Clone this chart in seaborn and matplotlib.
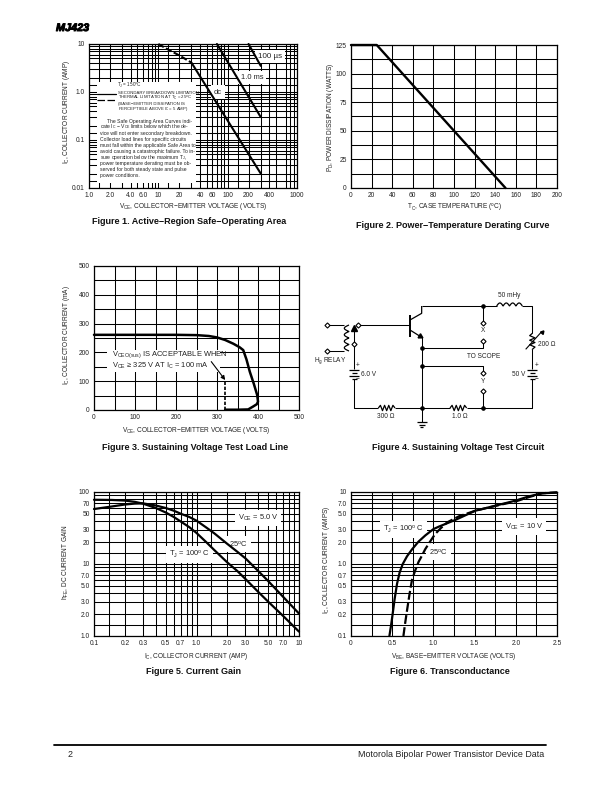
import numpy as np
import matplotlib
matplotlib.use("Agg")
import matplotlib.pyplot as plt
import matplotlib.patheffects as pe
from matplotlib.patches import Rectangle
from matplotlib.ticker import NullFormatter
import seaborn as sns

# Fig 1 safe operating area
soa_thermal_v = [10, 14, 20, 30]
soa_thermal_i = [10, 7.6, 5.8, 4.1]
soa_dc_v = [30, 300]
soa_dc_i = [4.1, 0.02]
soa_1ms_v = [70, 300]
soa_1ms_i = [10, 0.3]
soa_100us_v = [200, 300]
soa_100us_i = [10, 3.5]

# Fig 2 derating
derate_t = [0, 25, 150]
derate_p = [125, 125, 0]

# Fig 3 load line
load_v = [0, 100, 200, 250, 280, 300, 320, 340, 355, 364, 372, 380, 390, 398, 400, 397, 388, 376, 350, 320]
load_i = [261, 261, 261, 260, 257, 252, 243, 230, 218, 208, 175, 133, 90, 52, 29, 20, 12, 2, 1, 1]
load_dash_v = [320, 320]
load_dash_i = [1, 100]

# Fig 5 current gain
gain_ic = [0.1, 0.15, 0.2, 0.25, 0.3, 0.4, 0.5, 0.6, 0.7, 0.85, 1.0, 1.25, 1.5, 2.0, 2.5, 3.0, 4.0, 5.0, 7.0, 10]
gain_25 = [58, 63, 67, 69, 69.5, 65, 60, 55, 50, 45, 40, 32, 26.5, 19, 14.8, 12, 8, 5.8, 3.5, 2.05]
gain_100 = [78, 77.5, 76, 73, 69, 60, 52, 45, 39, 32.5, 27, 20, 15.5, 10.5, 8, 6.2, 4.1, 3, 1.9, 1.15]

# Fig 6 transconductance
tc_100_v = [0.466, 0.486, 0.506, 0.53, 0.559, 0.59, 0.628, 0.68, 0.741, 0.82, 0.903, 1.0, 1.065, 1.267, 1.51, 1.83, 2.0, 2.16, 2.32, 2.5]
tc_100_i = [0.1, 0.14, 0.204, 0.33, 0.533, 0.76, 1.0, 1.28, 1.6, 2.05, 2.5, 3.05, 3.3, 4.1, 5.5, 6.8, 7.6, 8.7, 9.6, 9.8]
tc_25_v = [0.636, 0.655, 0.68, 0.71, 0.74, 0.78, 0.82, 0.86, 0.90, 0.96, 1.02, 1.09, 1.17, 1.31, 1.51, 1.8, 2.0, 2.16, 2.32, 2.5]
tc_25_i = [0.1, 0.145, 0.227, 0.38, 0.6, 0.82, 1.07, 1.3, 1.6, 2.05, 2.6, 3.15, 3.8, 4.6, 5.5, 6.6, 7.4, 8.5, 9.6, 9.9]

# tick labels
log_ticks = [0.1, 0.2, 0.3, 0.5, 0.7, 1, 2, 3, 5, 7, 10, 20, 30, 50, 70, 100]
log_labels = ['0.1', '0.2', '0.3', '0.5', '0.7', '1.0', '2.0', '3.0', '5.0', '7.0', '10', '20', '30', '50', '70', '100']
log_lines = [m * d for d in (0.1, 1, 10) for m in (1, 1.4, 2, 3, 4, 5, 6, 7, 8, 9)] + [100]

sns.set_theme(style="white")
plt.rcParams['font.family'] = ['Liberation Sans', 'DejaVu Sans']
plt.rcParams['mathtext.default'] = 'regular'

W, H = 612, 792
fig = plt.figure(figsize=(W / 100, H / 100), dpi=100)
fig.patch.set_facecolor('white')

TICK = 4.8
LABEL = 4.7
GRID = 0.75
CURVE = 1.5


def make_ax(left, top, right, bottom):
    ax = fig.add_axes([left / W, 1 - bottom / H, (right - left) / W, (bottom - top) / H])
    for s in ax.spines.values():
        s.set_linewidth(0.9)
        s.set_color('black')
    ax.tick_params(which='both', length=0, labelsize=TICK, pad=3, colors='#222222')
    ax.grid(True, which='both', color='black', linewidth=GRID)
    ax.set_axisbelow(True)
    return ax


def labels(ax, box, xlabel, ylabel, xl_y, yl_x, yl_y):
    left, top, right, bottom = box
    ax.set_xlabel(xlabel, fontsize=LABEL, color='#222222')
    ax.set_ylabel(ylabel, fontsize=LABEL, color='#222222')
    ax.xaxis.set_label_coords(0.5, -(xl_y - bottom) / (bottom - top), transform=ax.transAxes)
    ax.yaxis.set_label_coords((yl_x - left) / (right - left), 1 - (yl_y - top) / (bottom - top), transform=ax.transAxes)
    ax.xaxis.label.set_va('center')
    ax.yaxis.label.set_va('center')


def curve(ax, x, y, dashes=None, lw=CURVE):
    line = sns.lineplot(x=x, y=y, ax=ax, color='black', linewidth=lw, estimator=None, sort=False,
                        legend=False, zorder=4, clip_on=False)
    if dashes:
        line.lines[-1].set_dashes(dashes)


def note(ax, x, y, s, size=LABEL + 0.7):
    # white box knocks the grid out behind the label, curves stay on top
    ax.text(x, y, s, fontsize=size, color='#222222', ha='center', va='center', zorder=3,
            bbox=dict(facecolor='white', edgecolor='none', pad=2.2))


# Figure 1
box1 = (89, 44, 297, 188)
ax1 = make_ax(*box1)
ax1.set_xscale('log')
ax1.set_yscale('log')
ax1.set_xlim(1, 1000)
ax1.set_ylim(0.01, 10)
ax1.set_xticks([1, 2, 4, 6, 10, 20, 40, 60, 100, 200, 400, 1000])
ax1.set_xticklabels(['1.0', '2.0', '4.0', '6.0', '10', '20', '40', '60', '100', '200', '400', '1000'])
ax1.set_xticks([m * d for d in (1, 10, 100) for m in (1.4, 3, 5, 7, 8, 9)], minor=True)
ax1.set_yticks([0.01, 0.1, 1, 10])
ax1.set_yticklabels(['0.01', '0.1', '1.0', '10'])
ax1.set_yticks([m * d for d in (0.01, 0.1, 1) for m in (1.4, 2, 3, 4, 5, 6, 7, 8, 9)], minor=True)
ax1.xaxis.set_minor_formatter(NullFormatter())
ax1.yaxis.set_minor_formatter(NullFormatter())
curve(ax1, soa_thermal_v, soa_thermal_i, dashes=(3, 1.2))
curve(ax1, soa_dc_v, soa_dc_i)
curve(ax1, soa_1ms_v, soa_1ms_i)
curve(ax1, soa_100us_v, soa_100us_i)
note(ax1, 72, 1.0, 'dc', 5.4)
note(ax1, 225, 2.0, '1.0 ms')
note(ax1, 408, 5.6, '100 µs', 5.8)
labels(ax1, box1, r'V$_{CE}$, COLLECTOR−EMITTER VOLTAGE (VOLTS)', r'I$_{C}$, COLLECTOR CURRENT (AMP)', 207, 67, 112)

# Figure 2
box2 = (351, 45, 557, 188)
ax2 = make_ax(*box2)
ax2.set_xlim(0, 200)
ax2.set_ylim(0, 125)
ax2.set_xticks(range(0, 201, 20))
ax2.set_yticks([0, 25, 50, 75, 100, 125])
ax2.set_yticks([12.5, 37.5, 62.5, 87.5, 112.5], minor=True)
curve(ax2, derate_t, derate_p, lw=1.7)
labels(ax2, box2, r'T$_{C}$, CASE TEMPERATURE ($^{o}$C)', r'P$_{D}$, POWER DISSIPATION (WATTS)', 208, 330, 117)

# Figure 3
box3 = (94, 266, 299, 410)
ax3 = make_ax(*box3)
ax3.set_xlim(0, 500)
ax3.set_ylim(0, 500)
ax3.set_xticks(range(0, 501, 100))
ax3.set_xticks(range(50, 500, 100), minor=True)
ax3.set_yticks(range(0, 501, 100))
ax3.set_yticks(range(50, 500, 100), minor=True)
curve(ax3, load_v, load_i, lw=1.8)
curve(ax3, load_dash_v, load_dash_i, dashes=(2, 1), lw=1.2)
ax3.add_patch(Rectangle((31, 133), 276, 75, facecolor='white', edgecolor='none', zorder=2))
ax3.text(43, 193, r'V$_{CEO(sus)}$ IS ACCEPTABLE WHEN', fontsize=LABEL + 0.7, color='#222222', va='center', zorder=5)
ax3.text(43, 154, r'V$_{CE}$ ≥ 325 V AT I$_{C}$ = 100 mA', fontsize=LABEL + 0.7, color='#222222', va='center', zorder=5)
ax3.annotate('', xy=(320, 104), xytext=(286, 168), zorder=5,
             arrowprops=dict(arrowstyle='-|>', color='black', lw=0.8, mutation_scale=6, shrinkA=0, shrinkB=0))
labels(ax3, box3, r'V$_{CE}$, COLLECTOR−EMITTER VOLTAGE (VOLTS)', r'I$_{C}$, COLLECTOR CURRENT (mA)', 431, 66, 335)

# Figure 5
box5 = (94, 492, 299, 636)
ax5 = make_ax(*box5)
ax5.set_xscale('log')
ax5.set_yscale('log')
ax5.set_xlim(0.1, 10)
ax5.set_ylim(1, 100)
ax5.set_xticks(log_ticks[:11])
ax5.set_xticklabels(log_labels[:11])
ax5.set_xticks([v for v in log_lines if 0.1 <= v <= 10], minor=True)
ax5.set_yticks(log_ticks[5:])
ax5.set_yticklabels(log_labels[5:])
ax5.set_yticks([v for v in log_lines if 1 <= v <= 100], minor=True)
ax5.xaxis.set_minor_formatter(NullFormatter())
ax5.yaxis.set_minor_formatter(NullFormatter())
curve(ax5, gain_ic, gain_25, lw=1.6)
curve(ax5, gain_ic, gain_100, lw=1.6)
note(ax5, 3.98, 43.5, r'V$_{CE}$ = 5.0 V')
note(ax5, 2.56, 19.2, '25$^{o}$C')
note(ax5, 0.85, 13.6, r'T$_{J}$ = 100$^{o}$ C')
labels(ax5, box5, r'I$_{C}$, COLLECTOR CURRENT (AMP)', r'h$_{FE}$, DC CURRENT GAIN', 657, 66, 562)

# Figure 6
box6 = (351, 492, 557, 636)
ax6 = make_ax(*box6)
ax6.set_yscale('log')
ax6.set_xlim(0, 2.5)
ax6.set_ylim(0.1, 10)
ax6.set_xticks([0, 0.5, 1, 1.5, 2, 2.5])
ax6.set_xticklabels(['0', '0.5', '1.0', '1.5', '2.0', '2.5'])
ax6.set_xticks([0.25, 0.75, 1.25, 1.75, 2.25], minor=True)
ax6.set_yticks(log_ticks[:11])
ax6.set_yticklabels(log_labels[:11])
ax6.set_yticks([v for v in log_lines if 0.1 <= v <= 10], minor=True)
ax6.yaxis.set_minor_formatter(NullFormatter())
curve(ax6, tc_100_v, tc_100_i, lw=1.6)
curve(ax6, tc_25_v, tc_25_i, dashes=(4, 1.5), lw=1.6)
note(ax6, 0.64, 3.0, r'T$_{J}$ = 100$^{o}$ C')
note(ax6, 1.06, 1.48, '25$^{o}$C')
note(ax6, 2.1, 3.3, r'V$_{CE}$ = 10 V')
labels(ax6, box6, r'V$_{BE}$, BASE−EMITTER VOLTAGE (VOLTS)', r'I$_{C}$, COLLECTOR CURRENT (AMPS)', 657, 326, 560)

# Figure 4 circuit, drawn in a small frame measured in its own units
circ = fig.add_axes([315 / W, 1 - 460 / H, 250 / W, 180 / H])
circ.set_xlim(0, 750)
circ.set_ylim(540, 0)
circ.axis('off')


def wire(xs, ys, lw=0.75):
    circ.plot(xs, ys, color='black', linewidth=lw, solid_capstyle='butt', zorder=2)


def terminal(x, y):
    circ.plot([x], [y], marker='D', ms=2.6, mfc='white', mec='black', mew=0.8, zorder=3)


def dot(x, y):
    circ.plot([x], [y], marker='o', ms=2.3, color='black', zorder=3)


def coil_h(x0, x1, y, n=4):
    t = np.linspace(0, 1, 120)
    wire(x0 + (x1 - x0) * t, y - 9 * np.abs(np.sin(np.pi * n * t)), 0.9)


def res_h(x0, x1, y):
    xs = np.linspace(x0, x1, 9)
    ys = y + np.array([0, -8, 8, -8, 8, -8, 8, -8, 0])
    wire(xs, ys, 0.9)


def battery(x, y0, w=15):
    for i, half in enumerate((w, w * 0.55, w, w * 0.55)):
        wire([x - half, x + half], [y0 + i * 9, y0 + i * 9], 0.9)


wire([320, 545], [78, 78])
coil_h(545, 622, 78)
wire([622, 652, 652], [78, 78, 160])
circ.plot(652 + np.array([0, -8, 8, -8, 8, -8, 8, 0]), np.linspace(160, 208, 8), color='black', lw=0.9)
wire([632, 680], [208, 155], 0.8)
circ.plot([680], [155], marker=(3, 0, -40), ms=3, color='black')
wire([652, 652], [208, 268])
battery(652, 270)
wire([652, 652, 455], [298, 384, 384])
res_h(405, 455, 384)
wire([405, 240], [384, 384])
res_h(190, 240, 384)
wire([190, 118, 118], [384, 384, 296])
battery(118, 270)
wire([118, 118], [268, 192])
wire([118, 118], [192, 150])
circ.plot([118], [145], marker='^', ms=4, color='black')
wire([128, 285], [135, 135])
wire([285, 285], [105, 172], 1.4)
wire([285, 320, 320], [120, 100, 78], 0.9)
wire([285, 320], [150, 172], 0.9)
circ.plot([315], [169], marker=(3, 0, -120), ms=4, color='black')
wire([320, 320], [172, 425])
wire([305, 335], [427, 427], 0.9)
wire([311, 329], [435, 435], 0.9)
wire([316, 324], [442, 442], 0.9)
wire([505, 505], [78, 130])
wire([505, 505, 320], [183, 205, 205])
wire([505, 505, 320], [280, 258, 258])
wire([505, 505], [333, 384])
wire([37, 88], [135, 135])
wire([37, 88], [213, 213])
t_coil = np.linspace(0, 1, 120)
wire(102 - 14 * np.abs(np.sin(np.pi * 4 * t_coil)), 135 + 78 * t_coil, 0.9)
for p in [(505, 78), (320, 205), (320, 258), (320, 384), (505, 384)]:
    dot(*p)
for p in [(37, 135), (37, 213), (128, 135), (118, 192), (505, 130), (505, 183), (505, 280), (505, 333)]:
    terminal(*p)

circuit_text = [
    (583, 47, '50 mHy'), (695, 194, '200 Ω'), (507, 229, 'TO SCOPE'), (505, 152, 'X'), (505, 304, 'Y'),
    (610, 283, '50 V'), (160, 282, '6.0 V'), (213, 411, '300 Ω'), (435, 411, '1.0 Ω'),
    (664, 256, '+'), (664, 298, '−'), (129, 255, '+'), (129, 298, '−'),
    (45, 243, r'H$_{g}$ RELAY'),
]
for x, y, s in circuit_text:
    circ.text(x, y, s, fontsize=LABEL, color='#222222', ha='center', va='center')

# page furniture drawn in pixel space
page = fig.add_axes([0, 0, 1, 1])
page.set_xlim(0, W)
page.set_ylim(H, 0)
page.axis('off')
page.patch.set_alpha(0)

captions = [
    (189, 222, 'Figure 1. Active−Region Safe−Operating Area'),
    (453, 226, 'Figure 2. Power−Temperature Derating Curve'),
    (195, 448, 'Figure 3. Sustaining Voltage Test Load Line'),
    (458, 448, 'Figure 4. Sustaining Voltage Test Circuit'),
    (194, 672, 'Figure 5. Current Gain'),
    (450, 672, 'Figure 6. Transconductance'),
]
for x, y, s in captions:
    page.text(x, y, s, fontsize=6.5, fontweight='bold', ha='center', va='center', color='#111111')

page.text(56, 28, 'MJ423', fontsize=7.8, fontweight='bold', fontstyle='italic', va='center', color='black',
          path_effects=[pe.withStroke(linewidth=0.7, foreground='black')])
page.plot([54, 546], [745, 745], color='black', linewidth=1.3)
page.text(68, 754.5, '2', fontsize=6.4, va='center', color='#222222')
page.text(544, 754.5, 'Motorola Bipolar Power Transistor Device Data', fontsize=6.4, ha='right', va='center', color='#222222')

# legend and note block on Figure 1
page.add_patch(Rectangle((96.5, 82), 99, 101, facecolor='white', edgecolor='none'))
page.text(129, 85, r'T$_{J}$ = 150$^{o}$C', fontsize=3.3, ha='center', va='center', color='#222222')
page.plot([97, 116], [94, 94], color='black', linewidth=0.9)
page.plot([97, 116], [99.5, 99.5], color='black', linewidth=0.9, dashes=(6, 2))
legend_lines = [
    (92.5, 'SECONDARY BREAKDOWN LIMITATION'),
    (98, r'THERMAL LIMITATION AT T$_{C}$ = 25$^{o}$C'),
    (103.5, '(BASE−EMITTER DISSIPATION IS'),
    (109, r'PERCEPTIBLE ABOVE I$_{C}$ = 5 AMP)'),
]
for y, s in legend_lines:
    page.text(118, y, s, fontsize=3.1, va='center', color='#222222')
note_lines = [
    (107, 121, 'The Safe Operating Area Curves indi-'),
    (100, 127, r'cate I$_{C}$ − V$_{CE}$ limits below which the de-'),
    (100, 133, 'vice will not enter secondary breakdown.'),
    (100, 139, 'Collector load lines for specific circuits'),
    (100, 145, 'must fall within the applicable Safe Area to'),
    (100, 151.5, 'avoid causing a catastrophic failure. To in-'),
    (100, 157.5, r'sure operation below the maximum T$_{J}$,'),
    (100, 164, 'power temperature derating must be ob-'),
    (100, 170, 'served for both steady state and pulse'),
    (100, 176, 'power conditions.'),
]
for x, y, s in note_lines:
    page.text(x, y, s, fontsize=3.65, va='center', color='#222222')

fig.savefig('out.png', dpi=100)
